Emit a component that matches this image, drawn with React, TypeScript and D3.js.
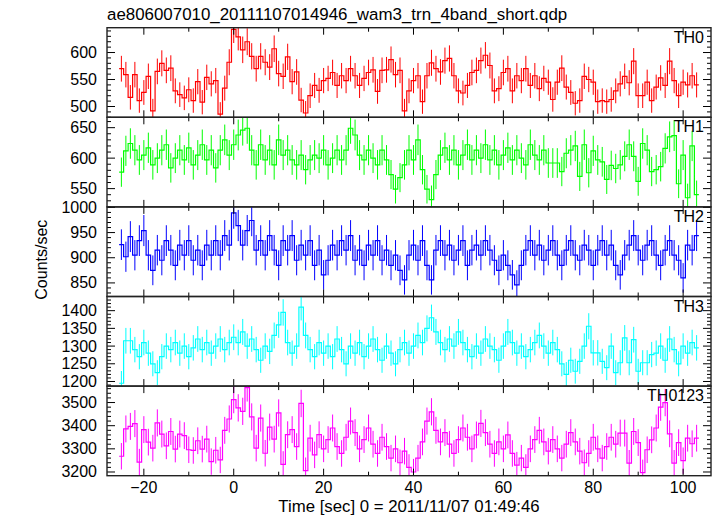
import * as d3 from "d3";

// Light curves: 1 s bins, centres from -25 s to 103 s (Counts/sec)
const binStart = -25;
const binWidth = 1;

const th0Rates = [
  570, 559, 517, 559, 511, 526, 556, 492, 565, 580,
  567, 571, 529, 522, 516, 531, 511, 546, 508, 554,
  542, 548, 486, 534, 582, 643, 629, 605, 620, 593,
  570, 593, 582, 573, 607, 561, 556, 592, 546, 564,
  512, 488, 520, 539, 530, 548, 552, 563, 539, 557,
  548, 570, 557, 539, 552, 563, 568, 528, 567, 568,
  587, 559, 567, 492, 529, 548, 557, 509, 557, 581,
  570, 564, 585, 589, 557, 529, 525, 539, 563, 567,
  585, 595, 576, 529, 533, 563, 570, 529, 557, 548,
  570, 539, 557, 533, 552, 545, 513, 545, 571, 536,
  526, 506, 511, 556, 550, 545, 509, 511, 509, 513,
  529, 542, 556, 544, 584, 520, 520, 545, 511, 536,
  553, 539, 584, 548, 520, 545, 540, 557, 540,
];

const th1Rates = [
  577, 612, 624, 613, 597, 605, 617, 589, 600, 613,
  622, 584, 600, 613, 597, 617, 589, 605, 622, 597,
  613, 584, 613, 630, 605, 622, 638, 646, 649, 613,
  589, 622, 597, 613, 589, 630, 605, 613, 597, 589,
  605, 581, 597, 605, 600, 613, 589, 600, 613, 597,
  613, 649, 638, 605, 597, 613, 600, 589, 613, 597,
  573, 549, 568, 589, 613, 597, 630, 581, 549, 532,
  573, 605, 617, 597, 613, 589, 605, 622, 597, 613,
  600, 622, 597, 613, 589, 605, 617, 597, 613, 600,
  589, 622, 605, 597, 613, 592, 592, 592, 578, 608,
  613, 620, 570, 622, 576, 612, 597, 594, 565, 588,
  583, 589, 603, 622, 603, 562, 624, 613, 578, 581,
  586, 616, 635, 637, 558, 605, 535, 620, 540,
];

const th2Rates = [
  926, 902, 942, 905, 934, 954, 905, 875, 915, 895,
  934, 915, 885, 925, 905, 934, 895, 915, 885, 925,
  905, 934, 905, 944, 925, 989, 964, 925, 954, 974,
  915, 934, 905, 944, 915, 885, 934, 915, 944, 895,
  925, 905, 934, 885, 915, 866, 895, 925, 905, 934,
  915, 944, 895, 915, 885, 925, 905, 934, 895, 915,
  885, 905, 875, 856, 905, 925, 895, 934, 885, 856,
  915, 934, 905, 925, 895, 915, 934, 885, 915, 925,
  905, 934, 915, 895, 875, 905, 885, 866, 846, 885,
  915, 934, 905, 925, 895, 915, 934, 905, 885, 915,
  934, 905, 895, 925, 915, 885, 915, 934, 905, 925,
  885, 866, 905, 925, 944, 915, 895, 925, 934, 905,
  885, 915, 934, 905, 895, 860, 925, 915, 944,
];

const th3Rates = [
  1195, 1315, 1315, 1290, 1270, 1310, 1280, 1250, 1225, 1270,
  1300, 1290, 1310, 1280, 1300, 1270, 1295, 1320, 1290, 1310,
  1280, 1300, 1320, 1290, 1310, 1325, 1310, 1340, 1300, 1320,
  1290, 1260, 1300, 1285, 1330, 1360, 1395, 1310, 1280, 1300,
  1410, 1330, 1290, 1270, 1310, 1280, 1300, 1270, 1320, 1290,
  1250, 1300, 1280, 1310, 1270, 1300, 1320, 1290, 1260, 1300,
  1280, 1250, 1290, 1310, 1280, 1300, 1330, 1310, 1350, 1380,
  1340, 1310, 1290, 1320, 1300, 1340, 1310, 1290, 1270, 1300,
  1280, 1320, 1300, 1290, 1260, 1300, 1340, 1310, 1280, 1300,
  1270, 1290, 1310, 1330, 1300, 1280, 1310, 1290, 1250, 1220,
  1260, 1229, 1257, 1300, 1356, 1281, 1281, 1257, 1239, 1300,
  1225, 1253, 1323, 1253, 1318, 1229, 1253, 1253, 1276, 1280,
  1300, 1260, 1320, 1290, 1250, 1300, 1280, 1310, 1295,
];

const th0123Rates = [
  3268, 3386, 3397, 3409, 3243, 3383, 3329, 3303, 3412, 3364,
  3313, 3375, 3299, 3364, 3357, 3296, 3293, 3335, 3299, 3342,
  3245, 3294, 3252, 3380, 3429, 3513, 3477, 3462, 3564, 3438,
  3303, 3433, 3281, 3394, 3342, 3455, 3233, 3361, 3383, 3310,
  3496, 3206, 3346, 3274, 3361, 3300, 3340, 3390, 3310, 3280,
  3350, 3420, 3370, 3300, 3340, 3390, 3320, 3280, 3350, 3310,
  3260, 3300, 3240, 3290, 3220, 3200, 3260, 3330, 3420, 3460,
  3380, 3330, 3370, 3320, 3280, 3340, 3390, 3350, 3300, 3360,
  3410, 3370, 3320, 3280, 3330, 3300, 3360, 3280, 3230, 3260,
  3220, 3300, 3340, 3380, 3330, 3290, 3340, 3300, 3260, 3320,
  3370, 3330, 3290, 3240, 3280, 3350, 3300, 3260, 3310, 3350,
  3320, 3368, 3368, 3238, 3375, 3327, 3197, 3296, 3339, 3390,
  3480, 3500, 3365, 3238, 3327, 3249, 3346, 3322, 3346,
];

const panelLabels = ["TH0", "TH1", "TH2", "TH3", "TH0123"];
const panelColors = ["#ff0000", "#00ff00", "#0000ff", "#00ffff", "#ff00ff"];
const panelDomains: [number, number][] = [
  [480, 646],
  [520, 667],
  [823, 1001],
  [1187, 1440],
  [3184, 3571],
];
const panelTicks = [
  [500, 550, 600],
  [550, 600, 650],
  [850, 900, 950, 1000],
  [1200, 1250, 1300, 1350, 1400],
  [3200, 3300, 3400, 3500],
];
const panelMinor = [10, 10, 10, 10, 20];

const timeTicks = [-20, 0, 20, 40, 60, 80, 100];
const timeMinorTicks = [-10, 10, 30, 50, 70, 90];

const title = "ae806007010_20111107014946_wam3_trn_4band_short.qdp";
const xTitle = "Time [sec] 0 = 2011/11/07 01:49:46";
const yTitle = "Counts/sec";

const width = 717;
const height = 516;
const margin = { left: 107, right: 6, top: 27.7 };
const panelH = 89.6;
const font = "'Liberation Sans', Arial, Helvetica, sans-serif";

const App = () => {
  const allRates = [th0Rates, th1Rates, th2Rates, th3Rates, th0123Rates];

  const xScale = d3
    .scaleLinear()
    .domain([-28.2, 106.2])
    .range([margin.left, width - margin.right]);

  const bottom = margin.top + panelH * allRates.length;
  const x0 = margin.left;
  const x1 = width - margin.right;

  return (
    <svg
      width={width}
      height={height}
      style={{ position: "absolute", left: 0, top: 0, background: "#fff" }}
      fontFamily={font}
    >
      <defs>
        {allRates.map((_, i) => (
          <clipPath id={`clip${i}`} key={i}>
            <rect x={x0} y={margin.top + i * panelH} width={x1 - x0} height={panelH} />
          </clipPath>
        ))}
      </defs>

      <text x={107} y={20} fontSize={16.9}>
        {title}
      </text>

      {allRates.map((rates, i) => {
        const top = margin.top + i * panelH;
        const yScale = d3
          .scaleLinear()
          .domain(panelDomains[i])
          .range([top + panelH, top]);

        const bins = rates.map((v, k) => ({
          t: binStart + k * binWidth,
          v,
          err: Math.sqrt(v), // poisson error for 1 s bins
        }));

        const stepPts: [number, number][] = [];
        bins.forEach((b) => {
          stepPts.push([b.t - binWidth / 2, b.v]);
          stepPts.push([b.t + binWidth / 2, b.v]);
        });
        const line = d3
          .line<[number, number]>()
          .x((d) => xScale(d[0]))
          .y((d) => yScale(d[1]));

        const [lo, hi] = panelDomains[i];
        const minors = d3
          .range(Math.ceil(lo / panelMinor[i]) * panelMinor[i], hi, panelMinor[i])
          .filter((v) => !panelTicks[i].includes(v));

        return (
          <g key={i}>
            <g clipPath={`url(#clip${i})`} stroke={panelColors[i]} fill="none">
              {bins.map((b, k) => (
                <line
                  key={k}
                  x1={xScale(b.t)}
                  x2={xScale(b.t)}
                  y1={yScale(b.v - b.err)}
                  y2={yScale(b.v + b.err)}
                  strokeWidth={1}
                />
              ))}
              <path d={line(stepPts) ?? ""} strokeWidth={1.2} />
            </g>

            <g stroke="#000" strokeWidth={1}>
              {panelTicks[i].map((v) => (
                <g key={v}>
                  <line x1={x0} x2={x0 + 8} y1={yScale(v)} y2={yScale(v)} />
                  <line x1={x1} x2={x1 - 8} y1={yScale(v)} y2={yScale(v)} />
                </g>
              ))}
              {minors.map((v) => (
                <g key={v}>
                  <line x1={x0} x2={x0 + 4} y1={yScale(v)} y2={yScale(v)} />
                  <line x1={x1} x2={x1 - 4} y1={yScale(v)} y2={yScale(v)} />
                </g>
              ))}
              {timeTicks.map((t) => (
                <g key={t}>
                  <line x1={xScale(t)} x2={xScale(t)} y1={top} y2={top + 7} />
                  <line x1={xScale(t)} x2={xScale(t)} y1={top + panelH} y2={top + panelH - 7} />
                </g>
              ))}
              {timeMinorTicks.map((t) => (
                <g key={t}>
                  <line x1={xScale(t)} x2={xScale(t)} y1={top} y2={top + 4} />
                  <line x1={xScale(t)} x2={xScale(t)} y1={top + panelH} y2={top + panelH - 4} />
                </g>
              ))}
            </g>

            {panelTicks[i].map((v) => (
              <text
                key={v}
                x={97}
                y={yScale(v) + 5.5}
                textAnchor="end"
                fontSize={16}
              >
                {v}
              </text>
            ))}

            <text x={704} y={top + 15} textAnchor="end" fontSize={16}>
              {panelLabels[i]}
            </text>

            <rect
              x={x0}
              y={top}
              width={x1 - x0}
              height={panelH}
              fill="none"
              stroke="#222"
              strokeWidth={1.4}
            />
          </g>
        );
      })}

      {timeTicks.map((t) => (
        <text key={t} x={xScale(t)} y={493} textAnchor="middle" fontSize={16}>
          {t < 0 ? `\u2212${Math.abs(t)}` : t}
        </text>
      ))}

      <text x={(x0 + x1) / 2} y={512} textAnchor="middle" fontSize={16.8}>
        {xTitle}
      </text>
      <text
        transform={`translate(46.5, ${(margin.top + bottom) / 2 + 8}) rotate(-90)`}
        textAnchor="middle"
        fontSize={16}
      >
        {yTitle}
      </text>
    </svg>
  );
};

export default App;
